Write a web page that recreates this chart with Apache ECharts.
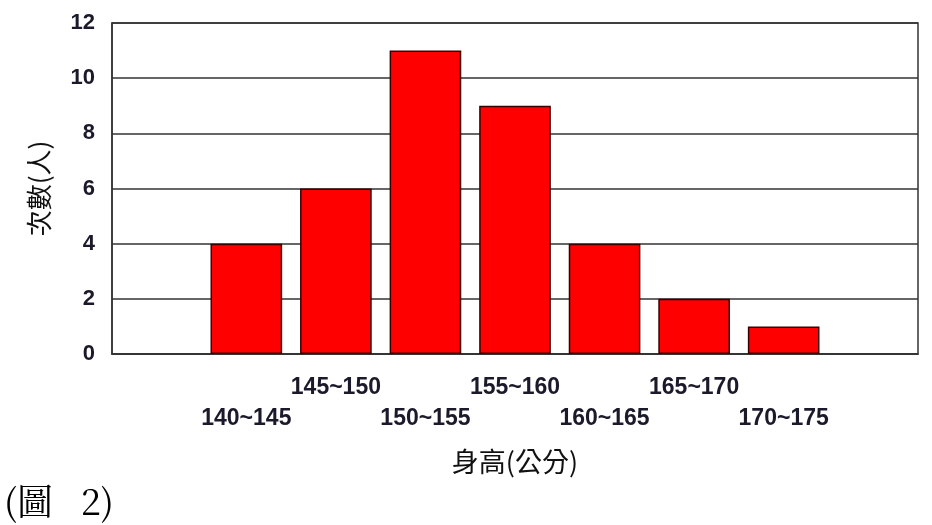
<!DOCTYPE html>
<html>
<head>
<meta charset="utf-8">
<script src="https://cdn.jsdelivr.net/npm/echarts@6/dist/echarts.min.js"></script>
<style>
  html, body { margin: 0; padding: 0; background: #fff; }
  #chart { width: 932px; height: 525px; }
</style>
</head>
<body>
<div id="chart"></div>
<script>
    // 身高分組 (頭尾各留一個空位)
    var categories = ['', '140~145', '145~150', '150~155', '155~160', '160~165', '165~170', '170~175', ''];
    var counts = [null, 4, 6, 11, 9, 4, 2, 1, null];
    var yTicks = [0, 2, 4, 6, 8, 10, 12];

    var myChart = echarts.init(document.getElementById('chart'));
    var option = {
        animation: false,
        backgroundColor: '#fff',
        grid: {
            left: 112,
            right: 14,
            top: 23,
            bottom: 171,
            show: true,
            borderColor: '#333',
            borderWidth: 1.5,
            backgroundColor: 'transparent'
        },
        xAxis: {
            type: 'category',
            data: categories,
            name: '身高(公分)',
            nameLocation: 'middle',
            nameGap: 94,
            nameTextStyle: {
                fontFamily: 'Noto Sans CJK TC',
                fontSize: 27,
                color: '#111'
            },
            axisLine: { lineStyle: { color: '#333', width: 1.5 } },
            axisTick: { show: false },
            axisLabel: {
                interval: 0,
                margin: 18,
                fontFamily: 'Liberation Sans',
                fontWeight: 'bold',
                fontSize: 23,
                color: '#1a1a2a',
                lineHeight: 31,
                formatter: function (value, idx) {
                    // 奇數位置的標籤往下錯開一行
                    return idx % 2 === 1 ? '\n' + value : value;
                }
            }
        },
        yAxis: {
            type: 'value',
            min: yTicks[0],
            max: yTicks[yTicks.length - 1],
            interval: 2,
            name: '次數(人)',
            nameLocation: 'middle',
            nameRotate: 90,
            nameGap: 60,
            nameTextStyle: {
                fontFamily: 'Noto Sans CJK TC',
                fontSize: 26,
                color: '#111'
            },
            axisLine: { show: true, lineStyle: { color: '#333', width: 1.5 } },
            axisTick: { show: false },
            axisLabel: {
                margin: 17,
                fontFamily: 'Liberation Sans',
                fontWeight: 'bold',
                fontSize: 22,
                color: '#1a1a2a'
            },
            splitLine: { lineStyle: { color: '#333', width: 1.5 } }
        },
        series: [
            {
                type: 'bar',
                data: counts,
                barWidth: '80%',
                itemStyle: {
                    color: '#ff0000',
                    borderColor: '#3a0000',
                    borderWidth: 1.5
                }
            }
        ],
        graphic: [
            {
                type: 'text',
                left: 4,
                top: 483,
                style: {
                    text: '(圖   2)',
                    fontFamily: 'Noto Serif CJK TC, Liberation Serif, serif',
                    fontSize: 36,
                    fill: '#000'
                }
            }
        ]
    };
    myChart.setOption(option);
</script>
</body>
</html>
